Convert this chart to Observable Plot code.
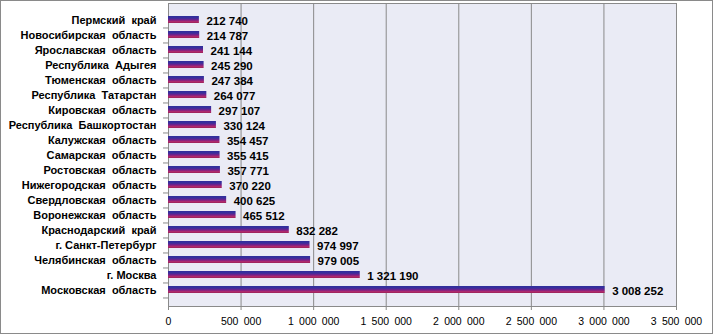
<!DOCTYPE html>
<html>
<head>
<meta charset="utf-8">
<script src="https://cdn.jsdelivr.net/npm/d3@7"></script>
<script src="https://cdn.jsdelivr.net/npm/@observablehq/plot@0.6"></script>
<style>
  html, body { margin: 0; padding: 0; background: #fff; }
  #wrap { width: 711px; height: 332px; border: 1px solid #8a8a8a; overflow: hidden; }
</style>
</head>
<body>
<div id="wrap"></div>
<script>
const regions = [
  "Пермский  край",
  "Новосибирская  область",
  "Ярославская  область",
  "Республика  Адыгея",
  "Тюменская  область",
  "Республика  Татарстан",
  "Кировская  область",
  "Республика  Башкортостан",
  "Калужская  область",
  "Самарская  область",
  "Ростовская  область",
  "Нижегородская  область",
  "Свердловская  область",
  "Воронежская  область",
  "Краснодарский  край",
  "г. Санкт-Петербург",
  "Челябинская  область",
  "г. Москва",
  "Московская  область"
];
const values = [
  212740, 214787, 241144, 245290, 247384, 264077, 297107, 330124, 354457,
  355415, 357771, 370220, 400625, 465512, 832282, 974997, 979005, 1321190, 3008252
];
const xTicks = [0, 500000, 1000000, 1500000, 2000000, 2500000, 3000000, 3500000];

const data = regions.map((r, i) => ({region: r, value: values[i]}));
const grp = v => d3.format(",")(v).replace(/,/g, " ");
const grpTick = v => d3.format(",")(v).replace(/,/g, "\u2002");

const H = 332, W = 711;
const mTop = 2, mBottom = 27;
const step = (H - mTop - mBottom) / regions.length;

const chart = Plot.plot({
  width: W,
  height: H,
  marginLeft: 167,
  marginRight: 36,
  marginTop: mTop,
  marginBottom: mBottom,
  style: {fontFamily: "Liberation Sans, Arial, sans-serif", background: "#fff", color: "#000"},
  x: {domain: [0, 3500000], label: null},
  y: {domain: regions, paddingInner: 0.55, paddingOuter: 0.275, label: null},
  marks: [
    Plot.frame({fill: "#eaebf5", stroke: "#8a8a8a"}),
    Plot.ruleX(xTicks, {stroke: "#8a8a8a", strokeWidth: 1}),
    Plot.barX(data, {x: "value", y: "region", fill: "url(#barGrad)"}),
    Plot.text(data, {
      x: "value", y: "region", text: d => grp(d.value),
      textAnchor: "start", dx: 7, dy: 1,
      fontWeight: "bold", fontSize: 11.5, fill: "#000"
    }),
    Plot.axisY({
      tickSize: 0, tickPadding: 12, fontSize: 11, fontWeight: "bold",
      className: "cataxis", label: null
    }),
    Plot.axisY({
      tickSize: 5, tickFormat: () => "", dy: step / 2, stroke: "#8a8a8a", label: null
    }),
    Plot.axisX({
      ticks: xTicks, tickSize: 4, tickPadding: 7, fontSize: 10.5,
      tickFormat: grpTick, stroke: "#8a8a8a", label: null
    })
  ]
});

const ns = "http://www.w3.org/2000/svg";
const defs = document.createElementNS(ns, "defs");
const lg = document.createElementNS(ns, "linearGradient");
lg.setAttribute("id", "barGrad");
lg.setAttribute("x1", "0"); lg.setAttribute("y1", "0");
lg.setAttribute("x2", "0"); lg.setAttribute("y2", "1");
[["0%", "#2e2e9c"], ["30%", "#3a2f9c"], ["55%", "#74208a"], ["80%", "#b02a6c"], ["100%", "#9a2258"]].forEach(([o, c]) => {
  const s = document.createElementNS(ns, "stop");
  s.setAttribute("offset", o); s.setAttribute("stop-color", c);
  lg.appendChild(s);
});
defs.appendChild(lg);
chart.insertBefore(defs, chart.firstChild);
chart.querySelectorAll(".cataxis text").forEach(t => { t.setAttribute("xml:space", "preserve"); t.style.whiteSpace = "pre"; });
document.getElementById("wrap").appendChild(chart);
</script>
</body>
</html>
